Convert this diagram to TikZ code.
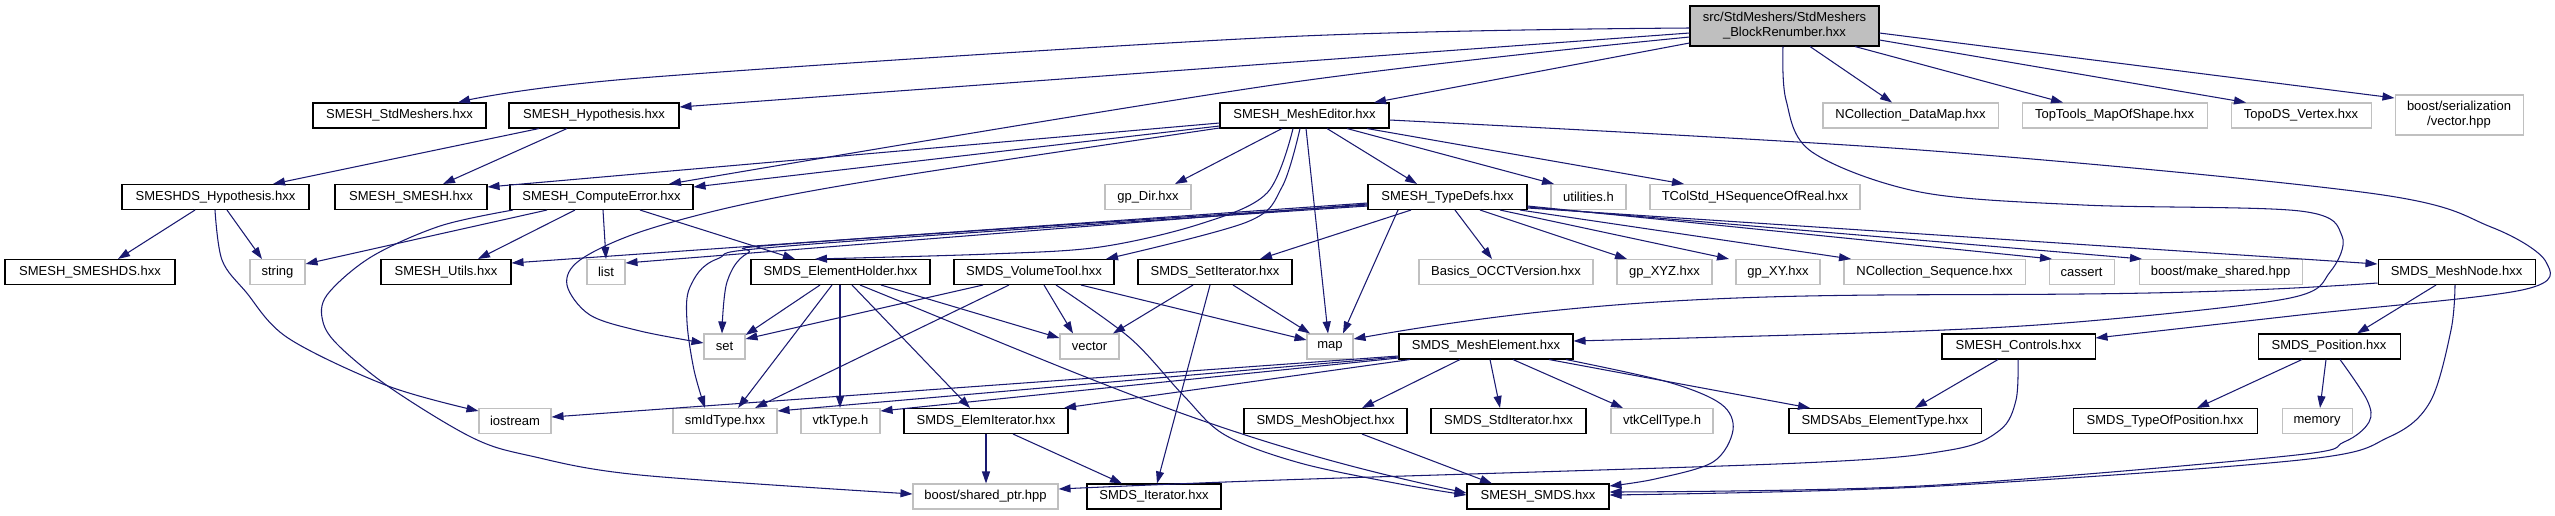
\documentclass[tikz,border=0pt]{standalone}
\usepackage{fontspec}
\setmainfont{Liberation Sans}
\usetikzlibrary{arrows.meta}

\definecolor{edgeblue}{HTML}{191970}
\definecolor{boxgray}{HTML}{C0C0C0}
\definecolor{focusgray}{HTML}{BFBFBF}

\begin{document}
\begin{tikzpicture}[
  x=0.02cm, y=-0.02cm,
  >={Triangle[length=0.24cm, width=0.16cm]},
  font=\fontsize{7.4}{8.6}\selectfont,
  every node/.style={inner sep=0pt, minimum height=0.5cm},
  proj/.style={draw=black, line width=0.6pt, fill=white},
  extf/.style={draw=boxgray, line width=0.6pt, fill=white},
  focus/.style={draw=black, line width=0.6pt, fill=focusgray, align=center},
  bw/.style={minimum width=#1*0.02cm},
  dep/.style={->, draw=edgeblue, line width=0.6pt},
  smoothdep/.style={dep, smooth, tension=0.55},
]

% ── Frame: the picture is 2555 x 515 px, one px = 0.02cm ───────────────────
\useasboundingbox (0,0) rectangle (2555,515);

% ── Row 0: the header itself ────────────────────────────────────────────────
\node[focus, bw=189, minimum height=0.8cm] (top) at (1784.5,26)
  {src/StdMeshers/StdMeshers\\\_BlockRenumber.hxx};

% ── Row 1 ──────────────────────────────────────────────────────────────────
\node[proj, bw=173] (stdm)   at (399.5,115.5) {SMESH\_StdMeshers.hxx};
\node[proj, bw=170] (hyp)    at (594,115.5)   {SMESH\_Hypothesis.hxx};
\node[proj, bw=169] (edit)   at (1304.5,115.5) {SMESH\_MeshEditor.hxx};
\node[extf, bw=175] (dmap)   at (1910.5,115.5) {NCollection\_DataMap.hxx};
\node[extf, bw=185] (ttmap)  at (2114.5,115.5) {TopTools\_MapOfShape.hxx};
\node[extf, bw=140] (vertex) at (2301,115.5)  {TopoDS\_Vertex.hxx};
\node[extf, bw=128, minimum height=0.8cm, align=center] (bser) at (2459,115)
  {boost/serialization\\/vector.hpp};

% ── Row 2 ──────────────────────────────────────────────────────────────────
\node[proj, bw=187] (dshyp) at (215.5,197) {SMESHDS\_Hypothesis.hxx};
\node[proj, bw=152] (smesh) at (411,197)   {SMESH\_SMESH.hxx};
\node[proj, bw=183] (cerr)  at (601.5,197) {SMESH\_ComputeError.hxx};
\node[extf, bw=86]  (gpdir) at (1148,197)  {gp\_Dir.hxx};
\node[proj, bw=159] (tdefs) at (1447.5,197) {SMESH\_TypeDefs.hxx};
\node[extf, bw=75]  (util)  at (1588.5,197) {utilities.h};
\node[extf, bw=210] (tcol)  at (1755,197)  {TColStd\_HSequenceOfReal.hxx};

% ── Row 3 ──────────────────────────────────────────────────────────────────
\node[proj, bw=170] (smeshds)  at (90,272)     {SMESH\_SMESHDS.hxx};
\node[extf, bw=55]  (string)   at (277.5,272)  {string};
\node[proj, bw=130] (utils)    at (446,272)    {SMESH\_Utils.hxx};
\node[extf, bw=38]  (list)     at (606,272)    {list};
\node[proj, bw=179] (eholder)  at (840.5,272)  {SMDS\_ElementHolder.hxx};
\node[proj, bw=160] (vtool)    at (1034,272)   {SMDS\_VolumeTool.hxx};
\node[proj, bw=154] (setit)    at (1215,272)   {SMDS\_SetIterator.hxx};
\node[extf, bw=174] (occt)     at (1506,272)   {Basics\_OCCTVersion.hxx};
\node[extf, bw=95]  (gpxyz)    at (1664.5,272) {gp\_XYZ.hxx};
\node[extf, bw=84]  (gpxy)     at (1778,272)   {gp\_XY.hxx};
\node[extf, bw=181] (nseq)     at (1934.5,272) {NCollection\_Sequence.hxx};
\node[extf, bw=65]  (cassert)  at (2081.5,272) {cassert};
\node[extf, bw=163] (mkshared) at (2220.5,272) {boost/make\_shared.hpp};
\node[proj, bw=157] (mnode)    at (2456.5,272) {SMDS\_MeshNode.hxx};

% ── Row 4 ──────────────────────────────────────────────────────────────────
\node[extf, bw=41]  (set)    at (724.5,346.5)  {set};
\node[extf, bw=59]  (vector) at (1089.5,346.5) {vector};
\node[extf, bw=46]  (map)    at (1330,346.5)   {map};
\node[proj, bw=174] (melem)  at (1486,346.5)   {SMDS\_MeshElement.hxx};
\node[proj, bw=153] (ctrl)   at (2018.5,346.5) {SMESH\_Controls.hxx};
\node[proj, bw=142] (pos)    at (2329,346.5)   {SMDS\_Position.hxx};

% ── Row 5 ──────────────────────────────────────────────────────────────────
\node[extf, bw=72]  (iostream) at (515,421)    {iostream};
\node[extf, bw=104] (smid)     at (725,421)    {smIdType.hxx};
\node[extf, bw=79]  (vtk)      at (840.5,421)  {vtkType.h};
\node[proj, bw=164] (eiter)    at (986,421)    {SMDS\_ElemIterator.hxx};
\node[proj, bw=163] (mobj)     at (1325.5,421) {SMDS\_MeshObject.hxx};
\node[proj, bw=155] (stdit)    at (1508.5,421) {SMDS\_StdIterator.hxx};
\node[extf, bw=102] (vtkcell)  at (1662,421)   {vtkCellType.h};
\node[proj, bw=192] (abs)      at (1885,421)   {SMDSAbs\_ElementType.hxx};
\node[proj, bw=184] (typos)    at (2165,421)   {SMDS\_TypeOfPosition.hxx};
\node[extf, bw=70]  (memory)   at (2317,421)   {memory};

% ── Row 6 ──────────────────────────────────────────────────────────────────
\node[extf, bw=145] (shptr) at (985.5,496.5) {boost/shared\_ptr.hpp};
\node[proj, bw=134] (iter)  at (1154,496.5)  {SMDS\_Iterator.hxx};
\node[proj, bw=142] (smds)  at (1538,496.5)  {SMESH\_SMDS.hxx};

% ── Includes of the header ─────────────────────────────────────────────────
\draw[smoothdep] plot coordinates {(top.west |- 0,28) (1280,37) (640,78) (stdm.north -| 458,0)};
\draw[dep] (top.west |- 0,33) -- (hyp.east |- 0,107);
\draw[smoothdep] plot coordinates {(top.west |- 0,37) (1280,84) (cerr.north -| 669,0)};
\draw[dep] (top.west |- 0,43) -- (edit.north -| 1374,0);
\draw[dep] (top.south -| 1810,0) -- (dmap.north -| 1892,0);
\draw[dep] (top.south -| 1855,0) -- (ttmap.north -| 2063,0);
\draw[dep] (top.east |- 0,40) -- (vertex.north -| 2246,0);
\draw[dep] (top.east |- 0,33) -- (bser.west |- 0,98);
\draw[smoothdep] plot coordinates {(top.south -| 1783,0) (1786,100) (1812,152)
  (1920,192) (2083,205) (2300,211) (2342,236) (2330,272) (2290,298) (2100,320)
  (1920,331) (melem.east |- 0,341)};

% ── SMESH_Hypothesis ───────────────────────────────────────────────────────
\draw[dep] (hyp.south -| 539,0) -- (dshyp.north -| 273,0);
\draw[dep] (hyp.south -| 567,0) -- (smesh.north -| 443,0);

% ── SMESH_MeshEditor ───────────────────────────────────────────────────────
\draw[dep] (edit.west |- 0,123) -- (smesh.east |- 0,187);
\draw[dep] (edit.west |- 0,126) -- (cerr.east |- 0,187);
\draw[smoothdep] plot coordinates {(edit.west |- 0,128) (900,176) (745,204)
  (640,232) (580,260) (567,285) (590,315) (640,331) (set.west |- 0,343)};
\draw[dep] (edit.south -| 1282,0) -- (gpdir.north -| 1175,0);
\draw[smoothdep] plot coordinates {(edit.south -| 1300,0) (1282,187) (1247,222)
  (vtool.north -| 1106,0)};
\draw[smoothdep] plot coordinates {(edit.south -| 1293,0) (1267,193) (1200,224)
  (1100,247) (990,254) (eholder.north -| 815,0)};
\draw[dep] (edit.south -| 1306,0) -- (map.north -| 1328,0);
\draw[dep] (edit.south -| 1327,0) -- (tdefs.north -| 1417,0);
\draw[dep] (edit.south -| 1347,0) -- (util.north -| 1554,0);
\draw[dep] (edit.south -| 1367,0) -- (tcol.north -| 1684,0);
\draw[smoothdep] plot coordinates {(edit.east |- 0,120) (1920,150) (2369,193)
  (2491,227) (2546,262) (2522,290) (2300,315) (ctrl.east |- 0,338)};

% ── SMESH_TypeDefs ─────────────────────────────────────────────────────────
\draw[dep] (tdefs.west |- 0,203) -- (utils.east |- 0,263);
\draw[dep] (tdefs.west |- 0,204) -- (list.east |- 0,263);
\draw[smoothdep] plot coordinates {(tdefs.west |- 0,205) (800,243) (748,253)
  (727,282) (set.north -| 722,0)};
\draw[smoothdep] plot coordinates {(tdefs.west |- 0,206) (800,245) (717,259)
  (690,287) (687,322) (694,370) (smid.north -| 705,0)};
\draw[dep] (tdefs.south -| 1411,0) -- (setit.north -| 1260,0);
\draw[dep] (tdefs.south -| 1398,0) -- (map.north -| 1343,0);
\draw[dep] (tdefs.south -| 1455,0) -- (occt.north -| 1492,0);
\draw[dep] (tdefs.south -| 1480,0) -- (gpxyz.north -| 1627,0);
\draw[dep] (tdefs.south -| 1500,0) -- (gpxy.north -| 1729,0);
\draw[dep] (tdefs.south -| 1520,0) -- (nseq.north -| 1851,0);
\draw[dep] (tdefs.east |- 0,206) -- (cassert.north -| 2052,0);
\draw[dep] (tdefs.east |- 0,207) -- (mkshared.north -| 2142,0);
\draw[dep] (tdefs.east |- 0,208) -- (mnode.west |- 0,264);

% ── SMESH_ComputeError ─────────────────────────────────────────────────────
\draw[dep] (cerr.south -| 547,0) -- (string.east |- 0,264);
\draw[dep] (cerr.south -| 575,0) -- (utils.north -| 478,0);
\draw[dep] (cerr.south -| 603,0) -- (list.north -| 606,0);
\draw[dep] (cerr.south -| 640,0) -- (eholder.north -| 795,0);
\draw[smoothdep] plot coordinates {(cerr.south -| 513,0) (440,226) (371,257)
  (327,295) (323,322) (340,347) (392,389) (473,438) (531,456) (640,475)
  (shptr.west |- 0,494)};

% ── SMESHDS_Hypothesis ─────────────────────────────────────────────────────
\draw[dep] (dshyp.south -| 195,0) -- (smeshds.north -| 118,0);
\draw[dep] (dshyp.south -| 227,0) -- (string.north -| 262,0);
\draw[smoothdep] plot coordinates {(dshyp.south -| 215,0) (222,260) (246,292)
  (288,338) (388,386) (iostream.west |- 0,411)};

% ── SMDS_ElementHolder ─────────────────────────────────────────────────────
\draw[dep] (eholder.south -| 820,0) -- (set.east |- 0,335);
\draw[dep] (eholder.south -| 832,0) -- (smid.north -| 738,0);
\draw[dep] (eholder.south -| 840,0) -- (vtk.north -| 840,0);
\draw[dep] (eholder.south -| 852,0) -- (eiter.north -| 970,0);
\draw[dep] (eholder.south -| 860,0) to[out=-22, in=168] (smds.west |- 0,493);
\draw[dep] (eholder.south -| 881,0) -- (vector.west |- 0,338);

% ── SMDS_VolumeTool ────────────────────────────────────────────────────────
\draw[dep] (vtool.south -| 983,0) -- (set.east |- 0,339);
\draw[dep] (vtool.south -| 1009,0) -- (smid.north -| 755,0);
\draw[dep] (vtool.south -| 1044,0) -- (vector.north -| 1073,0);
\draw[smoothdep] plot coordinates {(vtool.south -| 1056,0) (1130,338) (1183,395)
  (1225,435) (1300,463) (1400,484) (smds.west |- 0,495)};
\draw[dep] (vtool.south -| 1081,0) -- (map.west |- 0,340);

% ── SMDS_SetIterator ───────────────────────────────────────────────────────
\draw[dep] (setit.south -| 1193,0) -- (vector.north -| 1113,0);
\draw[dep] (setit.south -| 1210,0) -- (iter.north -| 1157,0);
\draw[dep] (setit.south -| 1233,0) -- (map.north -| 1310,0);

% ── SMDS_MeshElement ───────────────────────────────────────────────────────
\draw[dep] (melem.west |- 0,356) -- (iostream.east |- 0,417);
\draw[dep] (melem.west |- 0,357) -- (smid.east |- 0,411);
\draw[dep] (melem.west |- 0,358) -- (vtk.east |- 0,411);
\draw[dep] (melem.south -| 1410,0) -- (eiter.north -| 1064,0);
\draw[dep] (melem.south -| 1460,0) -- (mobj.north -| 1362,0);
\draw[dep] (melem.south -| 1490,0) -- (stdit.north -| 1500,0);
\draw[dep] (melem.south -| 1513,0) -- (vtkcell.north -| 1623,0);
\draw[dep] (melem.south -| 1549,0) -- (abs.north -| 1810,0);
\draw[smoothdep] plot coordinates {(melem.south -| 1566,0) (1668,382) (1721,404)
  (1733,430) (1713,462) (1655,479) (smds.east |- 0,486)};

% ── SMDS_MeshNode ──────────────────────────────────────────────────────────
\draw[dep] (mnode.south -| 2436,0) -- (pos.north -| 2357,0);
\draw[smoothdep] plot coordinates {(mnode.south -| 2455,0) (2451,330) (2430,402)
  (2389,437) (2300,460) (1920,487) (smds.east |- 0,495)};
\draw[dep] (mnode.west |- 0,283) to[out=184, in=10] (map.east |- 0,339);

% ── SMDS_Position ──────────────────────────────────────────────────────────
\draw[dep] (pos.south -| 2302,0) -- (typos.north -| 2197,0);
\draw[dep] (pos.south -| 2326,0) -- (memory.north -| 2320,0);
\draw[smoothdep] plot coordinates {(pos.south -| 2340,0) (2367,400) (2369,422)
  (2344,442) (2287,456) (1920,486) (smds.east |- 0,492)};

% ── SMESH_Controls ─────────────────────────────────────────────────────────
\draw[dep] (ctrl.south -| 1998,0) -- (abs.north -| 1915,0);
\draw[smoothdep] plot coordinates {(ctrl.south -| 2018,0) (2016,400) (2000,430)
  (1950,450) (1800,463) (1280,480) (shptr.east |- 0,489)};

% ── Iterators and mesh object ──────────────────────────────────────────────
\draw[dep] (eiter.south -| 986,0) -- (shptr.north -| 986,0);
\draw[dep] (eiter.south -| 1013,0) -- (iter.north -| 1122,0);
\draw[dep] (mobj.south -| 1362,0) -- (smds.north -| 1492,0);

\end{tikzpicture}
\end{document}
